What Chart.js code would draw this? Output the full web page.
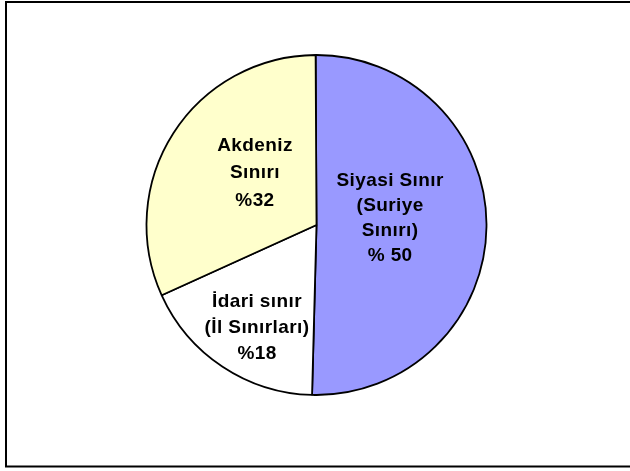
<!DOCTYPE html>
<html>
<head>
<meta charset="utf-8">
<script src="https://cdn.jsdelivr.net/npm/chart.js@4"></script>
<style>
html,body{margin:0;padding:0;background:#fff;}
#wrap{width:630px;height:471px;position:relative;}
canvas{display:block;}
</style>
</head>
<body>
<div id="wrap"><canvas id="c" width="630" height="471"></canvas></div>
<script>
const categories = ["Siyasi Sınır (Suriye Sınırı)", "İdari sınır (İl Sınırları)", "Akdeniz Sınırı"];
const values = [50.5, 17.8, 31.7];
const sliceColors = ["#9999FF", "#FFFFFF", "#FFFFCC"];
const labelLines = [
  ["Siyasi Sınır", "(Suriye", "Sınırı)", "% 50"],
  ["İdari sınır", "(İl Sınırları)", "%18"],
  ["Akdeniz", "Sınırı", "%32"]
];
// label anchor offsets as fractions of the radius, and line heights
const labelOffsets = [[0.433, -0.038], [-0.35, 0.606], [-0.362, -0.306]];
const lineHeights = [25, 26, 27.5];

const framePlugin = {
  id: 'frame',
  beforeDraw(chart) {
    const ctx = chart.ctx;
    ctx.save();
    ctx.fillStyle = '#fff';
    ctx.fillRect(0, 0, chart.width, chart.height);
    ctx.strokeStyle = '#000';
    ctx.lineWidth = 2;
    ctx.strokeRect(6, 2, 640, 464.5);
    ctx.restore();
  }
};

const labelPlugin = {
  id: 'sliceLabels',
  afterDatasetsDraw(chart) {
    const ctx = chart.ctx;
    const meta = chart.getDatasetMeta(0);
    ctx.save();
    ctx.fillStyle = '#000';
    ctx.font = 'bold 19px "Liberation Sans", Arial, sans-serif';
    if ('letterSpacing' in ctx) ctx.letterSpacing = '0.4px';
    ctx.textAlign = 'center';
    ctx.textBaseline = 'middle';
    meta.data.forEach((arc, i) => {
      const p = arc.getProps(['x', 'y', 'outerRadius'], true);
      const cx = p.x + labelOffsets[i][0] * p.outerRadius;
      const cy = p.y + labelOffsets[i][1] * p.outerRadius;
      const lines = labelLines[i];
      const lh = lineHeights[i];
      const start = cy - (lines.length - 1) * lh / 2;
      lines.forEach((t, k) => ctx.fillText(t, cx, start + k * lh));
    });
    ctx.restore();
  }
};

new Chart(document.getElementById('c'), {
  type: 'pie',
  data: {
    labels: categories,
    datasets: [{
      data: values,
      backgroundColor: sliceColors,
      borderColor: '#000',
      borderWidth: 1.8
    }]
  },
  options: {
    responsive: false,
    animation: false,
    rotation: -0.3,
    layout: { padding: { top: 54.1, bottom: 75.1, left: 50, right: 47 } },
    plugins: {
      legend: { display: false },
      tooltip: { enabled: false },
      title: { display: false }
    }
  },
  plugins: [framePlugin, labelPlugin]
});
</script>
</body>
</html>
